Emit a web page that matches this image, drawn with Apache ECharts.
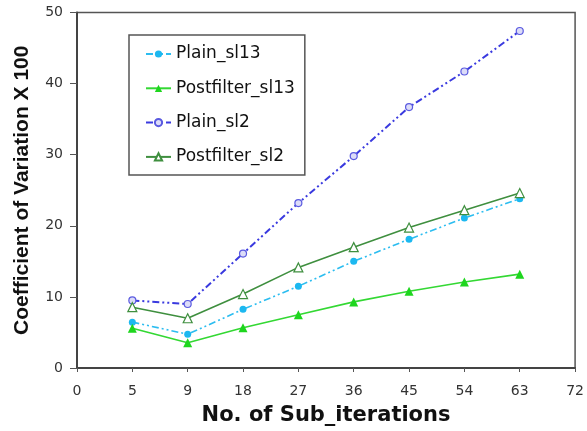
<!DOCTYPE html>
<html>
<head>
<meta charset="utf-8">
<script src="https://cdn.jsdelivr.net/npm/echarts@6/dist/echarts.min.js"></script>
<style>
  html, body { margin: 0; padding: 0; background: #fff; }
  #chart { width: 587px; height: 431px; }
</style>
</head>
<body>
<div id="chart"></div>
<script>
// x categories (sub-iterations); 0 and 72 are only axis ends
const subIterations = ['0', '5', '9', '18', '27', '36', '45', '54', '63', '72'];

const plainSl13 = ['-', 6.45, 4.75, 8.25, 11.5, 15.0, 18.1, 21.1, 23.8, '-'];
const postfilterSl13 = ['-', 5.6, 3.55, 5.65, 7.5, 9.3, 10.8, 12.1, 13.2, '-'];
const plainSl2 = ['-', 9.5, 9.0, 16.1, 23.2, 29.8, 36.7, 41.7, 47.4, '-'];
const postfilterSl2 = ['-', 8.55, 7.0, 10.4, 14.15, 17.0, 19.75, 22.2, 24.6, '-'];

const dashDot = [7, 3, 2, 3, 2, 3];

const chart = echarts.init(document.getElementById('chart'));

const option = {
	animation: false,
	backgroundColor: '#fff',
	textStyle: { fontFamily: 'DejaVu Sans' },
	grid: {
		left: 77,
		right: 10,
		top: 12.5,
		bottom: 61.7,
		show: true,
		borderColor: '#555',
		borderWidth: 1.5
	},
	legend: {
		orient: 'vertical',
		left: 129,
		top: 35,
		padding: [9, 10, 8, 16],
		itemGap: 14.3,
		itemWidth: 25,
		itemHeight: 9,
		borderColor: '#555',
		borderWidth: 1.5,
		backgroundColor: '#fff',
		textStyle: {
			fontFamily: 'DejaVu Sans',
			fontSize: 17,
			lineHeight: 20,
			color: '#111'
		},
		data: ['Plain_sl13', 'Postfilter_sl13', 'Plain_sl2', 'Postfilter_sl2']
	},
	xAxis: {
		type: 'category',
		boundaryGap: false,
		data: subIterations,
		name: 'No. of Sub_iterations',
		nameLocation: 'middle',
		nameGap: 37,
		nameTextStyle: {
			fontFamily: 'DejaVu Sans',
			fontWeight: 'bold',
			fontSize: 21,
			color: '#111'
		},
		axisLine: { lineStyle: { color: '#444', width: 2 } },
		axisTick: { length: 4, lineStyle: { color: '#555' } },
		axisLabel: { interval: 0, margin: 16, fontSize: 14, color: '#333' },
		splitLine: { show: false }
	},
	yAxis: {
		type: 'value',
		min: 0,
		max: 50,
		interval: 10,
		name: 'Coefficient of Variation X 100',
		nameLocation: 'middle',
		nameGap: 44,
		nameTextStyle: {
			fontFamily: 'Liberation Sans',
			fontWeight: 'bold',
			fontSize: 21,
			color: '#111'
		},
		axisLine: { show: true, lineStyle: { color: '#444', width: 2 } },
		axisTick: { show: true, length: 7, lineStyle: { color: '#555' } },
		axisLabel: { margin: 14, fontSize: 14, color: '#333' },
		splitLine: { show: false }
	},
	series: [
		{
			name: 'Plain_sl13',
			type: 'line',
			data: plainSl13,
			symbol: 'circle',
			symbolSize: 7,
			itemStyle: { color: '#1cb8f0' },
			lineStyle: { color: '#2cbdf0', width: 1.6, type: dashDot }
		},
		{
			name: 'Postfilter_sl13',
			type: 'line',
			data: postfilterSl13,
			symbol: 'triangle',
			symbolSize: 9,
			itemStyle: { color: '#1ed61e' },
			lineStyle: { color: '#33d833', width: 1.6 }
		},
		{
			name: 'Plain_sl2',
			type: 'line',
			data: plainSl2,
			symbol: 'circle',
			symbolSize: 7,
			itemStyle: { color: '#dcdcf8', borderColor: '#5a5ae0', borderWidth: 1.2 },
			lineStyle: { color: '#3a3adf', width: 2, type: dashDot }
		},
		{
			name: 'Postfilter_sl2',
			type: 'line',
			data: postfilterSl2,
			symbol: 'triangle',
			symbolSize: 9,
			itemStyle: { color: '#fff', borderColor: '#3f8f3f', borderWidth: 1.2 },
			lineStyle: { color: '#3f8f3f', width: 1.6 }
		}
	]
};

chart.setOption(option);
</script>
</body>
</html>
